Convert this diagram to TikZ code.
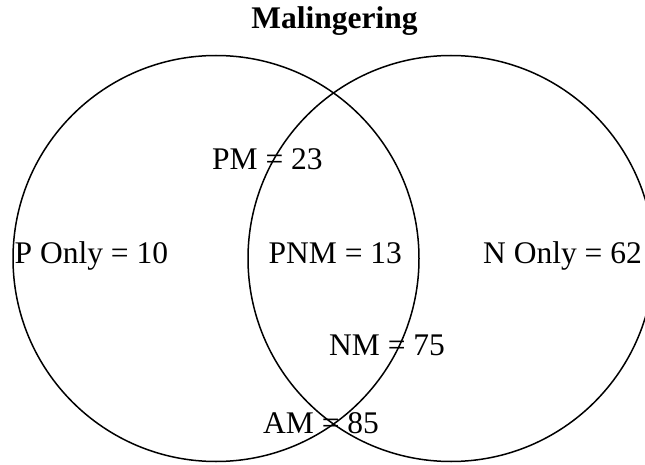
\documentclass[tikz,border=0pt]{standalone}
\usepackage{fontspec}
\setmainfont{Liberation Serif}
\tikzset{
  etichetta/.style={inner sep=0pt, anchor=base west, font=\fontsize{31.5}{37}\selectfont},
  insieme/.style={line width=1.5pt, black}
}
\begin{document}
\begin{tikzpicture}[x=1pt, y=-1pt]
        \clip (0,0) rectangle (645,465);
         % Disegna i cerchi
        \draw[insieme] (216,258.5) circle (203);
        \draw[insieme] (451,258.5) circle (203);

         % Titolo
        \node[inner sep=0pt, anchor=base, font=\fontsize{31.5}{37}\selectfont\bfseries] (titolo) at (334.5,29) {Malingering};

         % Etichette delle regioni
        \node[etichetta] (ponly) at (14.5,263) {P Only = 10};
        \node[etichetta] (pm) at (212,170) {PM = 23};
        \node[etichetta] (pnm) at (268.5,263) {PNM = 13};
        \node[etichetta] (nonly) at (483,263) {N Only = 62};
        \node[etichetta] (nm) at (329,355) {NM = 75};
        \node[etichetta] (am) at (263,433) {AM = 85};
    \end{tikzpicture}
\end{document}
